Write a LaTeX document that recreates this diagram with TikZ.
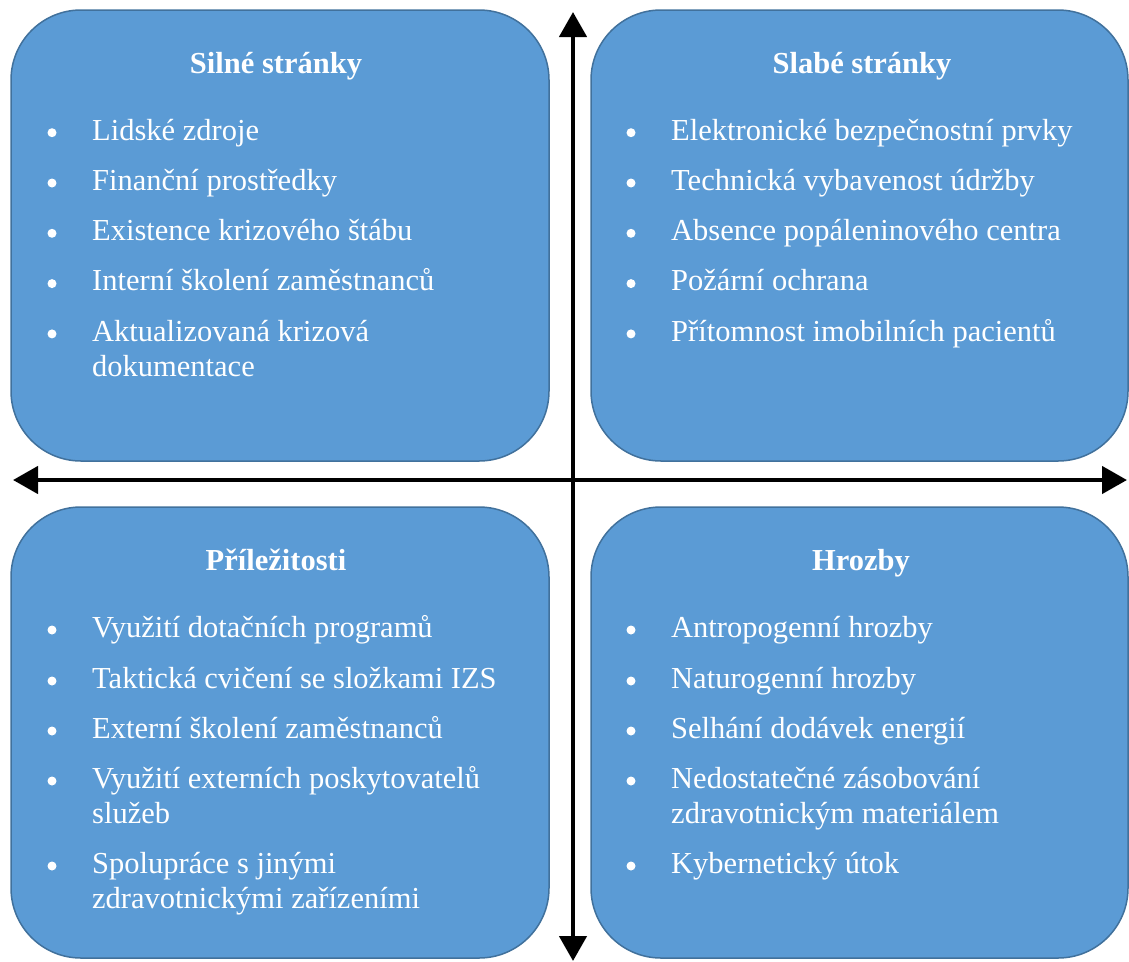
\documentclass[tikz,border=0pt]{standalone}
\usepackage{fontspec}
\setmainfont{Liberation Serif}
\usetikzlibrary{arrows.meta}
\definecolor{boxfill}{HTML}{5B9BD5}
\definecolor{boxline}{HTML}{41719C}
\tikzset{
  quad/.style={draw=boxline, line width=1.5pt, fill=boxfill, rounded corners=70pt, inner sep=0pt},
  ttl/.style={anchor=base, inner sep=0pt, text=white, font=\fontsize{30.5}{35}\selectfont\bfseries},
  itm/.style={anchor=base west, inner sep=0pt, text=white, align=left, font=\fontsize{30.5}{35}\selectfont},
  bul/.style={circle, fill=white, inner sep=0pt, minimum size=9pt},
  axis/.style={line width=4.5pt, draw=black, {Triangle[length=25pt,width=27pt]}-{Triangle[length=25pt,width=27pt]}}
}
\begin{document}
\begin{tikzpicture}[x=1pt, y=-1pt]
\useasboundingbox (0,0) rectangle (1129,961);
% boxes
\node[quad, minimum width=538pt, minimum height=451pt] (tl) at (280,235.5) {};
\node[quad, minimum width=537pt, minimum height=451pt] (tr) at (859.5,235.5) {};
\node[quad, minimum width=538pt, minimum height=451pt] (bl) at (280,732.5) {};
\node[quad, minimum width=537pt, minimum height=451pt] (br) at (859.5,732.5) {};
% titles
\node[ttl] (tlt) at (276,73.7) {Silné stránky};
\node[ttl] (trt) at (862,73.7) {Slabé stránky};
\node[ttl] (blt) at (276,570.7) {Příležitosti};
\node[ttl] (brt) at (861,570.7) {Hrozby};
% top-left items (two-line nodes are placed by the baseline of their last line)
\node[itm] (tl1) at (92,140) {Lidské zdroje};
\node[itm] (tl2) at (92,190.3) {Finanční prostředky};
\node[itm] (tl3) at (92,240.6) {Existence krizového štábu};
\node[itm] (tl4) at (92,290.9) {Interní školení zaměstnanců};
\node[itm] (tl5) at (92,376.2) {Aktualizovaná krizová\\dokumentace};
\foreach \y [count=\i] in {140,190.3,240.6,290.9,341.2} \node[bul] (tlb\i) at (52,\y-7.3) {};
% top-right items
\node[itm] (tr1) at (671,140) {Elektronické bezpečnostní prvky};
\node[itm] (tr2) at (671,190.3) {Technická vybavenost údržby};
\node[itm] (tr3) at (671,240.6) {Absence popáleninového centra};
\node[itm] (tr4) at (671,290.9) {Požární ochrana};
\node[itm] (tr5) at (671,341.2) {Přítomnost imobilních pacientů};
\foreach \y [count=\i] in {140,190.3,240.6,290.9,341.2} \node[bul] (trb\i) at (631,\y-7.3) {};
% bottom-left items
\node[itm] (bl1) at (92,637.3) {Využití dotačních programů};
\node[itm] (bl2) at (92,688.3) {Taktická cvičení se složkami IZS};
\node[itm] (bl3) at (92,738.3) {Externí školení zaměstnanců};
\node[itm] (bl4) at (92,823.3) {Využití externích poskytovatelů\\služeb};
\node[itm] (bl5) at (92,908.3) {Spolupráce s jinými\\zdravotnickými zařízeními};
\foreach \y [count=\i] in {637.3,688.3,738.3,788.3,873.3} \node[bul] (blb\i) at (52,\y-7.3) {};
% bottom-right items
\node[itm] (br1) at (671,637.3) {Antropogenní hrozby};
\node[itm] (br2) at (671,688.3) {Naturogenní hrozby};
\node[itm] (br3) at (671,738.3) {Selhání dodávek energií};
\node[itm] (br4) at (671,823.3) {Nedostatečné zásobování\\zdravotnickým materiálem};
\node[itm] (br5) at (671,873.3) {Kybernetický útok};
\foreach \y [count=\i] in {637.3,688.3,738.3,788.3,873.3} \node[bul] (brb\i) at (631,\y-7.3) {};
% axes
\coordinate (vtop) at (573,12);
\coordinate (vbot) at (573,961);
\coordinate (hleft) at (13,480);
\coordinate (hright) at (1127,480);
\draw[axis] (vbot) -- (vtop);
\draw[axis] (hleft) -- (hright);
\end{tikzpicture}
\end{document}
